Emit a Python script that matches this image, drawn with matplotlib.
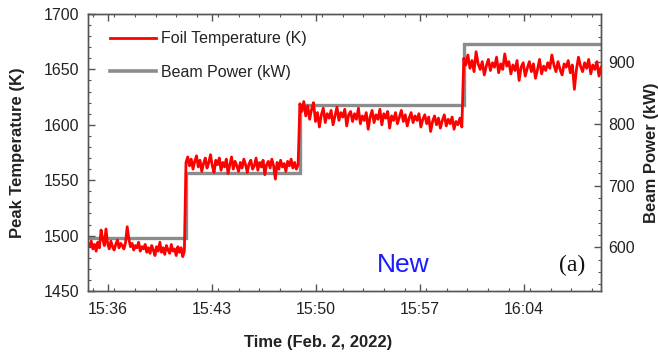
import numpy as np
import matplotlib
matplotlib.use("Agg")
import matplotlib.pyplot as plt
from matplotlib.ticker import MultipleLocator, FixedLocator, FixedFormatter

plt.rcParams['font.family'] = ['Liberation Sans', 'DejaVu Sans']

# time axis in minutes after 15:00
x_range = (34.65, 69.2)
step_times = [34.65, 41.25, 48.92, 59.96, 69.2]
beam_power = [615, 720, 830, 930]          # kW, one level per step
tick_minutes = [36, 43, 50, 57, 64]
tick_labels = ['15:36', '15:43', '15:50', '15:57', '16:04']

# foil peak temperature (K) read per beam-power step
temp_step1 = [1493, 1490, 1495, 1488, 1492, 1486, 1494, 1489, 1505, 1497, 1491, 1506,
              1493, 1488, 1495, 1490, 1487, 1492, 1496, 1489, 1493, 1491, 1488, 1494,
              1508, 1497, 1490, 1493, 1487, 1491, 1489, 1494, 1486, 1490, 1488, 1492,
              1485, 1489, 1484, 1491, 1487, 1482, 1490, 1486, 1494, 1485, 1489, 1483,
              1491, 1487, 1484, 1492, 1486, 1488, 1482, 1490, 1485, 1489, 1481, 1486]
temp_step2 = [1566, 1571, 1563, 1569, 1560, 1567, 1572, 1562, 1568, 1558, 1565, 1570,
              1561, 1566, 1573, 1563, 1557, 1568, 1564, 1570, 1559, 1566, 1562, 1569,
              1556, 1564, 1571, 1560, 1567, 1563, 1558, 1566, 1561, 1569, 1564, 1557,
              1565, 1568, 1560, 1563, 1570, 1559, 1566, 1562, 1568, 1555, 1564, 1567,
              1561, 1569, 1563, 1551, 1566, 1560, 1568, 1562, 1565, 1558, 1567, 1563,
              1569, 1561, 1566, 1560, 1564]
temp_step3 = [1619, 1612, 1621, 1608, 1617, 1605, 1614, 1620, 1603, 1611, 1598, 1609,
              1615, 1602, 1610, 1606, 1613, 1600, 1608, 1616, 1604, 1611, 1607, 1614,
              1599, 1609, 1612, 1603, 1610, 1605, 1615, 1601, 1608, 1604, 1611, 1596,
              1607, 1613, 1602, 1609, 1605, 1614, 1600, 1610, 1606, 1612, 1597, 1608,
              1604, 1611, 1601, 1607, 1613, 1603, 1609, 1599, 1606, 1611, 1602, 1608,
              1604, 1610, 1598, 1605, 1609, 1601, 1607, 1594, 1603, 1608, 1600, 1606,
              1597, 1604, 1609, 1599, 1605, 1601, 1607, 1596, 1603, 1600, 1606, 1598]
temp_step4 = [1660, 1654, 1663, 1651, 1658, 1648, 1666, 1655, 1650, 1657, 1645, 1653,
              1659, 1649, 1656, 1652, 1661, 1647, 1655, 1650, 1664, 1653, 1657, 1646,
              1654, 1649, 1658, 1640, 1652, 1656, 1644, 1651, 1657, 1648, 1655, 1642,
              1650, 1659, 1646, 1653, 1649, 1656, 1651, 1663, 1654, 1648, 1657, 1650,
              1645, 1655, 1652, 1658, 1647, 1654, 1632, 1650, 1661, 1653, 1648, 1656,
              1651, 1659, 1646, 1654, 1650, 1657, 1644, 1652]

temp_steps = [temp_step1, temp_step2, temp_step3, temp_step4]
t_temp, v_temp = [], []
for i, seg in enumerate(temp_steps):
    last = i == len(temp_steps) - 1
    t_temp.append(np.linspace(step_times[i], step_times[i + 1], len(seg), endpoint=last))
    v_temp.append(np.array(seg, dtype=float))
t_temp = np.concatenate(t_temp)
v_temp = np.concatenate(v_temp)

spine_col = '#555555'
text_col = '#222222'

fig = plt.figure(figsize=(6.58, 3.54), dpi=100)
ax = fig.add_axes([88 / 658, 1 - 291 / 354, 513 / 658, 277 / 354])
ax2 = ax.twinx()

ax2.plot(step_times, beam_power + [beam_power[-1]], drawstyle='steps-post',
         color='#8c8c8c', lw=2.4, solid_joinstyle='miter')
ax.plot(t_temp, v_temp, color='#ff0000', lw=2.0)

ax.set_zorder(ax2.get_zorder() + 1)
ax.patch.set_visible(False)

ax.set_xlim(*x_range)
ax.set_ylim(1450, 1700)
ax2.set_ylim(529, 978)

ax.xaxis.set_major_locator(FixedLocator(tick_minutes))
ax.xaxis.set_major_formatter(FixedFormatter(tick_labels))
ax.xaxis.set_minor_locator(MultipleLocator(1.4))
ax.yaxis.set_major_locator(MultipleLocator(50))
ax.yaxis.set_minor_locator(MultipleLocator(10))
ax2.yaxis.set_major_locator(MultipleLocator(100))
ax2.yaxis.set_minor_locator(MultipleLocator(20))

for a in (ax, ax2):
    for s in a.spines.values():
        s.set_color(spine_col)
        s.set_linewidth(1.0)
ax.tick_params(which='both', direction='in', top=True, right=False,
               colors=spine_col, labelcolor=text_col, labelsize=11.5)
ax.tick_params(which='major', length=5, width=1.0)
ax.tick_params(which='minor', length=2.5, width=0.8)
ax.tick_params(axis='y', pad=6)
ax.tick_params(axis='x', pad=8)
ax2.tick_params(which='both', direction='in', colors=spine_col,
                labelcolor=text_col, labelsize=11.5, pad=5)
ax2.tick_params(which='major', length=5, width=1.0)
ax2.tick_params(which='minor', length=2.5, width=0.8)

ax.set_ylabel('Peak Temperature (K)', fontsize=12, fontweight='bold', color=text_col)
ax.yaxis.set_label_coords(-0.123, 0.5)
ax.set_xlabel('Time (Feb. 2, 2022)', fontsize=12, fontweight='bold', color=text_col)
ax.xaxis.set_label_coords(0.448, -0.16)
ax2.set_ylabel('Beam Power (kW)', fontsize=12, fontweight='bold', color=text_col)
ax2.yaxis.set_label_coords(1.084, 0.5)

handles = [plt.Line2D([], [], color='#ff0000', lw=2.0),
           plt.Line2D([], [], color='#8c8c8c', lw=2.6)]
ax.legend(handles, ['Foil Temperature (K)', 'Beam Power (kW)'], loc='upper left',
          frameon=False, fontsize=11.5, handlelength=2.9, handletextpad=0.3,
          labelspacing=1.17, borderaxespad=0.0, bbox_to_anchor=(0.030, 0.961),
          labelcolor=text_col)

ax.text(0.614, 0.094, 'New', transform=ax.transAxes, color='#1a1aff',
        fontsize=19, ha='center', va='center')
ax.text(0.943, 0.094, '(a)', transform=ax.transAxes, color='#111111',
        fontsize=17, ha='center', va='center', family='Liberation Serif')

fig.savefig('out.png', dpi=100)
